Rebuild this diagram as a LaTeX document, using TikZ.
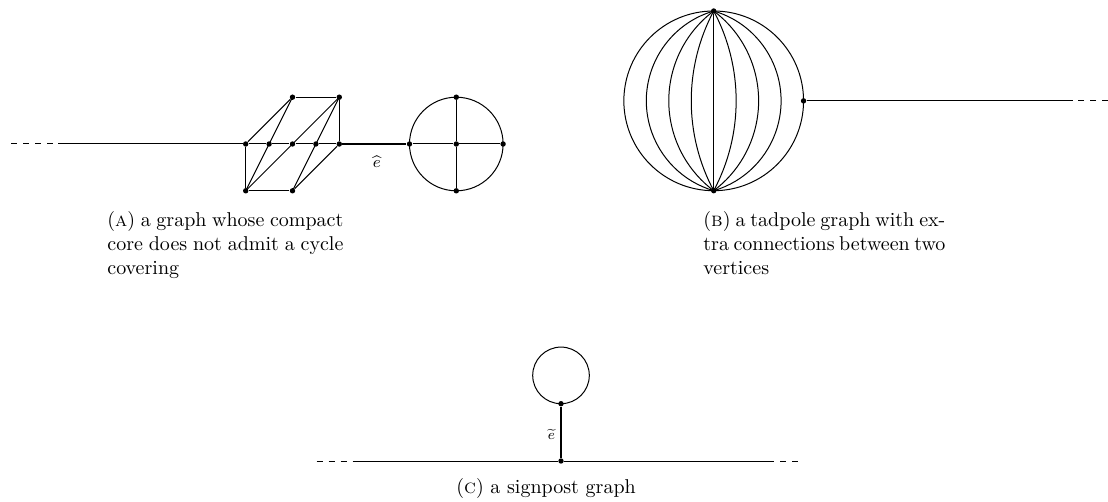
\documentclass[tikz,border=0pt]{standalone}
\usepackage{amsmath}
\begin{document}
\begin{tikzpicture}[x=0.5pt,y=-0.5pt,
  dot/.style={circle,fill=black,inner sep=0pt,minimum size=2.7pt},
  edge/.style={line width=0.5pt},
  heavy/.style={line width=1.3pt},
  caption/.style={anchor=north west,inner sep=0pt,text width=118pt,align=justify},
  lbl/.style={inner sep=0pt}]
\useasboundingbox (0,0) rectangle (1108,502);

% ---------------- (A) ----------------
\coordinate (Aend) at (11,144);
\coordinate (Adash) at (58,144);
\node[dot] (M0) at (245.7,144) {};
\node[dot] (M1) at (269.1,144) {};
\node[dot] (M2) at (292.5,144) {};
\node[dot] (M3) at (315.9,144) {};
\node[dot] (M4) at (339.3,144) {};
\node[dot] (T2) at (292.5,97.2) {};
\node[dot] (T4) at (339.3,97.2) {};
\node[dot] (B0) at (245.7,190.8) {};
\node[dot] (B2) at (292.5,190.8) {};
\node[dot] (CL) at (409.5,144) {};
\node[dot] (CC) at (456.3,144) {};
\node[dot] (CR) at (503.1,144) {};
\node[dot] (CT) at (456.3,97.2) {};
\node[dot] (CB) at (456.3,190.8) {};
\draw[edge,dashed] (Aend) -- (Adash);
\draw[edge] (Adash) -- (M0);
\draw[edge] (M0) -- (M1) -- (M2) -- (M3) -- (M4);
\draw[edge] (T2) -- (T4);
\draw[edge] (B0) -- (B2);
\draw[edge] (M0) -- (B0);
\draw[edge] (M4) -- (T4);
\draw[edge] (T2) -- (M0);
\draw[edge] (T2.center) -- (B0.center);
\draw[edge] (T4.center) -- (B0.center);
\draw[edge] (T4.center) -- (B2.center);
\draw[edge] (B2) -- (M4);
\draw[heavy] (M4) -- (CL);
\draw[edge] (CC.center) circle[radius=46.8];
\draw[edge] (CL) -- (CC) -- (CR);
\draw[edge] (CT) -- (CC) -- (CB);
\node[lbl,font=\footnotesize] (ehat) at (376.7,162) {$\widehat{e}$};
\node[caption] (capA) at (107,211) {(\textsc{a}) a graph whose compact core does not admit a cycle covering};

% ---------------- (B) ----------------
\node[dot] (BT) at (713.7,11) {};
\node[dot] (BB) at (713.7,190.7) {};
\node[dot] (BR) at (803.55,100.85) {};
\coordinate (Bdash) at (1073,100.85);
\coordinate (Bend) at (1108,100.85);
\draw[edge] (713.7,100.85) circle[radius=89.85];
\draw[edge] (BT) -- (BB);
\foreach \d in {22.46,44.93,67.39}{
  \pgfmathsetmacro{\rr}{(89.85*89.85+\d*\d)/(2*\d)}
  \pgfmathsetmacro{\aa}{atan2(89.85,\rr-\d)}
  \draw[edge] (BT.center) arc[start angle=-\aa, end angle=\aa, radius=\rr];
  \draw[edge] (BT.center) arc[start angle=180+\aa, end angle=180-\aa, radius=\rr];
}
\draw[edge] (BR) -- (Bdash);
\draw[edge,dashed] (Bend) -- (Bdash);
\node[caption,text width=121pt] (capB) at (703,211) {\spaceskip=0.3333em plus 0.1667em minus 0.17em\relax (\textsc{b}) a tadpole graph with ex-\linebreak tra connections between two\linebreak vertices};

% ---------------- (C) ----------------
\coordinate (Cl) at (316.7,461);
\coordinate (Cls) at (355,461);
\coordinate (Crs) at (768,461);
\coordinate (Cr) at (800,461);
\node[dot] (V) at (561,461) {};
\node[dot] (W) at (561,403.7) {};
\draw[edge,dashed] (Cl) -- (Cls);
\draw[edge] (Cls) -- (V) -- (Crs);
\draw[edge,dashed] (Crs) -- (Cr);
\draw[heavy] (V) -- (W);
\draw[edge] (561,375.4) circle[radius=28.3];
\node[lbl,font=\scriptsize] (etil) at (551.5,434) {$\widetilde{e}$};
\node[anchor=base west,inner sep=0pt] (capC) at (456,493) {(\textsc{c}) a signpost graph};
\end{tikzpicture}
\end{document}
